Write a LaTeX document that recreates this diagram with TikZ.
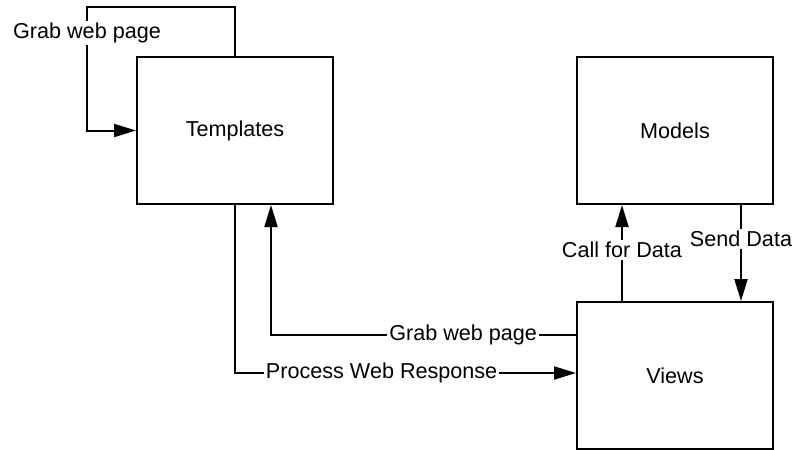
\documentclass[tikz,border=0pt]{standalone}
\usepackage{fontspec}
\setmainfont{Liberation Sans}
\usetikzlibrary{arrows.meta}
\begin{document}
\begin{tikzpicture}[x=0.5pt,y=-0.5pt,
    box/.style={draw,line width=1pt,minimum width=98pt,minimum height=73.5pt,inner sep=0pt},
    arr/.style={line width=1pt,-{Triangle[length=11pt,width=6.5pt]}},
    lbl/.style={fill=white,inner sep=1pt}]
                        \useasboundingbox (0,0) rectangle (796,449);
                        {\fontsize{10.8}{13}\selectfont

                        % Boxes
                        \node [box] (tpl) at (235,130.5) {Templates};%
                        \node [box] (mdl) at (675,130.5) {Models};%
                        \node [box] (vws) at (675,375.5) {Views};%

                        % Corner points of the lines
                        \coordinate (loop) at (87,7);%
                        \coordinate (cfd) at (622,0);%
                        \coordinate (snd) at (741,0);%
                        \coordinate (gwp) at (271,335);%
                        \coordinate (pwr) at (235,373);%

                        % Drawing line Templates -> Templates
                        \draw [arr] (tpl.north) |- (loop) -- node [lbl,pos=0.21] {Grab web page} (loop |- tpl.west) -- (tpl.west);%

                        % Drawing line Views -> Models
                        \draw [arr] (vws.north -| cfd) -- node [lbl,pos=0.53] {Call for Data} (mdl.south -| cfd);%

                        % Drawing line Models -> Views
                        \draw [arr] (mdl.south -| snd) -- node [lbl,pos=0.35] {Send Data} (vws.north -| snd);%

                        % Drawing line Views -> Templates
                        \draw [arr] (vws.west |- gwp) -- node [lbl,pos=0.37] {Grab web page} (gwp) -- (gwp |- tpl.south);%

                        % Drawing line Templates -> Views
                        \draw [arr] (tpl.south) -- (pwr) -- node [lbl,pos=0.43] {Process Web Response} (pwr -| vws.west);%
                        }
                    \end{tikzpicture}
\end{document}
